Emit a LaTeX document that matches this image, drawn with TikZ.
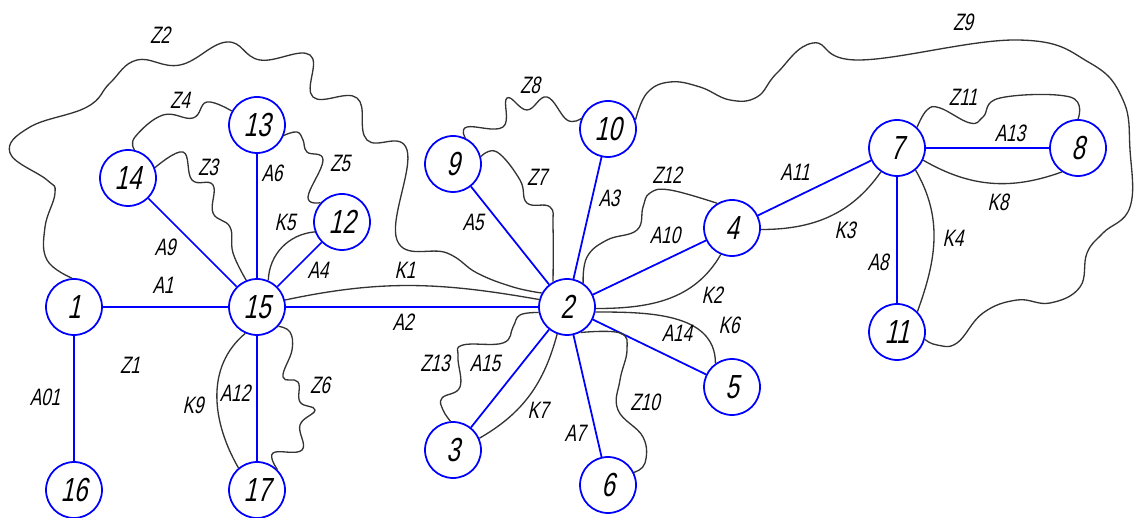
\documentclass[tikz,border=0pt]{standalone}
\usepackage{fontspec}
\newfontfamily\gostfont[FakeStretch=0.72,FakeSlant=0.22]{Liberation Sans}
\usepackage{tikz}
\usetikzlibrary{positioning}

\begin{document}
\begin{tikzpicture}[
  x=0.02cm, y=0.02cm,
  vtx/.style={draw=blue, circle, minimum size=1.12cm, inner sep=0pt,
              line width=1pt, fill=white,
              font=\gostfont\fontsize{19}{21}\selectfont},
  aedge/.style={draw=blue, line width=1pt},
  kedge/.style={draw=black!80, line width=0.75pt},
  zedge/.style={kedge, smooth, tension=0.7},
  lbl/.style={font=\gostfont\fontsize{13.5}{15}\selectfont, inner sep=1pt}
]
\useasboundingbox (0,0) rectangle (1141,517);

% ======= Vertices =======
\node[vtx] (n1)  at (74,210)   {1};
\node[vtx] (n15) at (257,210)  {15};
\node[vtx] (n16) at (74,27)    {16};
\node[vtx] (n17) at (257,27)   {17};
\node[vtx] (n14) at (128,339)  {14};
\node[vtx] (n13) at (257,392)  {13};
\node[vtx] (n12) at (342,295)  {12};
\node[vtx] (n9)  at (453,353)  {9};
\node[vtx] (n10) at (608,388)  {10};
\node[vtx] (n2)  at (567,210)  {2};
\node[vtx] (n4)  at (732,289)  {4};
\node[vtx] (n3)  at (453,67)   {3};
\node[vtx] (n6)  at (608,32)   {6};
\node[vtx] (n5)  at (732,130)  {5};
\node[vtx] (n7)  at (897,369)  {7};
\node[vtx] (n8)  at (1078,369) {8};
\node[vtx] (n11) at (897,185)  {11};

% ======= A edges (straight) =======
\draw[aedge] (n1) -- (n15);
\draw[aedge] (n1) -- (n16);
\draw[aedge] (n14) -- (n15);
\draw[aedge] (n13) -- (n15);
\draw[aedge] (n12) -- (n15);
\draw[aedge] (n15) -- (n17);
\draw[aedge] (n15) -- (n2);
\draw[aedge] (n9) -- (n2);
\draw[aedge] (n10) -- (n2);
\draw[aedge] (n4) -- (n2);
\draw[aedge] (n2) -- (n5);
\draw[aedge] (n2) -- (n3);
\draw[aedge] (n2) -- (n6);
\draw[aedge] (n4) -- (n7);
\draw[aedge] (n7) -- (n8);
\draw[aedge] (n7) -- (n11);

% ======= K edges (smooth) =======
\draw[kedge] (n15.14)  to[out=12,in=170]   (n2.165);
\draw[kedge] (n15.67)  to[out=88,in=185]   (n12.200);
\draw[kedge] (n15.246) to[out=220,in=120]  (n17.130);
\draw[kedge] (n2.-3)   to[out=0,in=240]    (n4.247);
\draw[kedge] (n2.-10)  to[out=0,in=90]     (n5.125);
\draw[kedge] (n2.250)  to[out=255,in=30]   (n3.24);
\draw[kedge] (n4.-3)   to[out=0,in=235]    (n7.236);
\draw[kedge] (n7.-50)  to[out=-60,in=70]   (n11.45);
\draw[kedge] (n7.-25)  to[out=-30,in=-160] (n8.236);

% ======= Z edges (wavy) =======
\draw[zedge] plot coordinates {(n1.94) (47,257) (45,290) (55,324) (47,337)
  (10,364) (30,390) (87,410) (110,434) (137,457) (180,452) (227,475)
  (260,457) (310,462) (313,420) (357,419) (367,377) (407,367) (397,277)
  (447,264) (477,244) (513,230) (n2.151)};
\draw[zedge] plot coordinates {(n14.21) (183,365) (192,337) (213,332)
  (213,304) (230,290) (233,264) (n15.112)};
\draw[zedge] plot coordinates {(n14.77) (135,380) (163,402) (193,399)
  (207,415) (n13.151)};
\draw[zedge] plot coordinates {(n13.-21) (297,385) (303,377) (307,365)
  (323,357) (308,320) (n12.138)};
\draw[zedge] plot coordinates {(n15.-42) (290,185) (292,167) (283,140)
  (298,135) (300,115) (315,107) (300,92) (302,67) (273,64) (n17.45)};
\draw[zedge] plot coordinates {(n9.15) (497,365) (520,337) (527,314)
  (550,310) (553,290) (n2.119)};
\draw[zedge] plot coordinates {(n9.65) (467,390) (503,390) (507,419)
  (527,407) (547,420) (567,397) (n10.159)};
\draw[zedge] plot coordinates {(n10.18) (647,424) (670,435) (700,430)
  (730,417) (757,420) (777,444) (813,474) (860,457) (1017,477) (1090,454)
  (1123,417) (1130,367) (1130,310) (1103,284) (1087,264) (1080,230)
  (1050,214) (1017,217) (983,204) (957,174) (937,172) (n11.-15)};
\draw[zedge] plot coordinates {(n7.46) (927,407) (940,409) (970,394)
  (983,400) (1000,419) (1070,420) (n8.90)};
\draw[zedge] plot coordinates {(n2.56) (587,260) (607,277) (637,287)
  (643,310) (650,324) (670,327) (n4.121)};
\draw[zedge] plot coordinates {(n2.191) (520,202) (513,190) (503,174)
  (463,172) (458,160) (460,130) (442,119) (443,107) (n3.95)};
\draw[zedge] plot coordinates {(n2.-62) (620,184) (627,167) (620,137)
  (618,107) (643,80) (645,54) (n6.26)};

% ======= Labels =======
\node[lbl] (lA1)  at (163,232) {A1};
\node[lbl] (lA01) at (45,120)  {A01};
\node[lbl] (lA9)  at (165,270) {A9};
\node[lbl] (lA6)  at (272,344) {A6};
\node[lbl] (lA4)  at (318,247) {A4};
\node[lbl] (lA12) at (235,124) {A12};
\node[lbl] (lA2)  at (403,195) {A2};
\node[lbl] (lA5)  at (473,295) {A5};
\node[lbl] (lA3)  at (609,319) {A3};
\node[lbl] (lA10) at (665,282) {A10};
\node[lbl] (lA14) at (677,184) {A14};
\node[lbl] (lA15) at (485,154) {A15};
\node[lbl] (lA7)  at (575,84)  {A7};
\node[lbl] (lA11) at (795,345) {A11};
\node[lbl] (lA13) at (1010,384) {A13};
\node[lbl] (lA8)  at (878,255) {A8};
\node[lbl] (lK1)  at (405,247) {K1};
\node[lbl] (lK5)  at (285,295) {K5};
\node[lbl] (lK9)  at (193,112) {K9};
\node[lbl] (lK2)  at (712,222) {K2};
\node[lbl] (lK6)  at (729,192) {K6};
\node[lbl] (lK7)  at (538,107) {K7};
\node[lbl] (lK3)  at (845,287) {K3};
\node[lbl] (lK4)  at (953,279) {K4};
\node[lbl] (lK8)  at (998,315) {K8};
\node[lbl] (lZ1)  at (130,152) {Z1};
\node[lbl] (lZ2)  at (160,482) {Z2};
\node[lbl] (lZ3)  at (208,350) {Z3};
\node[lbl] (lZ4)  at (180,417) {Z4};
\node[lbl] (lZ5)  at (340,354) {Z5};
\node[lbl] (lZ6)  at (320,132) {Z6};
\node[lbl] (lZ7)  at (537,340) {Z7};
\node[lbl] (lZ8)  at (530,432) {Z8};
\node[lbl] (lZ9)  at (963,495) {Z9};
\node[lbl] (lZ10) at (645,115) {Z10};
\node[lbl] (lZ11) at (963,420) {Z11};
\node[lbl] (lZ12) at (667,342) {Z12};
\node[lbl] (lZ13) at (435,154) {Z13};

\end{tikzpicture}
\end{document}
